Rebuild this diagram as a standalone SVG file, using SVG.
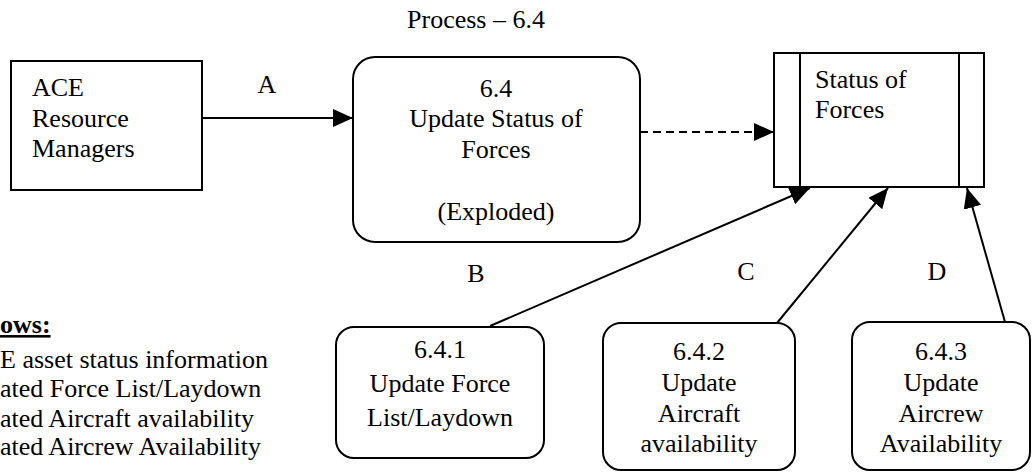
<svg xmlns="http://www.w3.org/2000/svg" width="1033" height="472" viewBox="0 0 1033 472">
<style>
  text { font-family: "Liberation Serif", "Times New Roman", serif; font-size: 26px; fill: #000; }
  .c { text-anchor: middle; }
  .box { fill: #fff; stroke: #000; stroke-width: 2; }
  .ln { fill: none; stroke: #000; stroke-width: 2; }
  .dash { stroke-dasharray: 8 5; }
  .hdr { font-weight: bold; text-decoration: underline; }
</style>
<defs>
  <marker id="ah" markerWidth="20" markerHeight="18" refX="20" refY="9" orient="auto" markerUnits="userSpaceOnUse">
    <path d="M0,0 L20,9 L0,18 z" fill="#000"/>
  </marker>
</defs>
<rect width="1033" height="472" fill="#fff"/>

<text id="title" class="c" x="476" y="28">Process – 6.4</text>

<g id="ace">
  <rect class="box" x="11" y="61" width="191" height="129"/>
  <text x="32" y="96">ACE</text>
  <text x="32" y="127">Resource</text>
  <text x="32" y="157">Managers</text>
</g>

<g id="p64">
  <rect class="box" x="353" y="57" width="287" height="185" rx="22"/>
  <text class="c" x="496" y="97">6.4</text>
  <text class="c" x="496" y="127">Update Status of</text>
  <text class="c" x="496" y="158">Forces</text>
  <text class="c" x="496" y="220">(Exploded)</text>
</g>

<g id="store">
  <rect class="box" x="774" y="53" width="210" height="134"/>
  <line class="ln" x1="800" y1="53" x2="800" y2="187"/>
  <line class="ln" x1="959" y1="53" x2="959" y2="187"/>
  <text x="815" y="88">Status of</text>
  <text x="815" y="118">Forces</text>
</g>

<g id="p641">
  <rect class="box" x="336" y="327" width="208" height="131" rx="18"/>
  <text class="c" x="440" y="358">6.4.1</text>
  <text class="c" x="440" y="392">Update Force</text>
  <text class="c" x="440" y="426">List/Laydown</text>
</g>

<g id="p642">
  <rect class="box" x="603" y="323" width="192" height="147" rx="18"/>
  <text class="c" x="699" y="360">6.4.2</text>
  <text class="c" x="699" y="391">Update</text>
  <text class="c" x="699" y="422">Aircraft</text>
  <text class="c" x="699" y="452">availability</text>
</g>

<g id="p643">
  <rect class="box" x="852" y="322" width="178" height="148" rx="18"/>
  <text class="c" x="941" y="360">6.4.3</text>
  <text class="c" x="941" y="391">Update</text>
  <text class="c" x="941" y="422">Aircrew</text>
  <text class="c" x="941" y="452">Availability</text>
</g>

<g id="connectors">
  <line class="ln" x1="202" y1="118" x2="353" y2="118" marker-end="url(#ah)"/>
  <line class="ln dash" x1="640" y1="132" x2="774" y2="132" marker-end="url(#ah)"/>
  <line class="ln" x1="490" y1="326" x2="810" y2="188" marker-end="url(#ah)"/>
  <line class="ln" x1="777" y1="323" x2="888" y2="188" marker-end="url(#ah)"/>
  <line class="ln" x1="1005" y1="322" x2="967" y2="188" marker-end="url(#ah)"/>
</g>

<g id="labels">
  <text class="c" x="267" y="93">A</text>
  <text class="c" x="476" y="282">B</text>
  <text class="c" x="746" y="280">C</text>
  <text class="c" x="937" y="280">D</text>
</g>

<g id="legend">
  <text class="hdr" x="0" y="333">ows:</text>
  <text x="0" y="368">E asset status information</text>
  <text x="0" y="397">ated Force List/Laydown</text>
  <text x="0" y="427">ated Aircraft availability</text>
  <text x="0" y="455">ated Aircrew Availability</text>
</g>
</svg>
